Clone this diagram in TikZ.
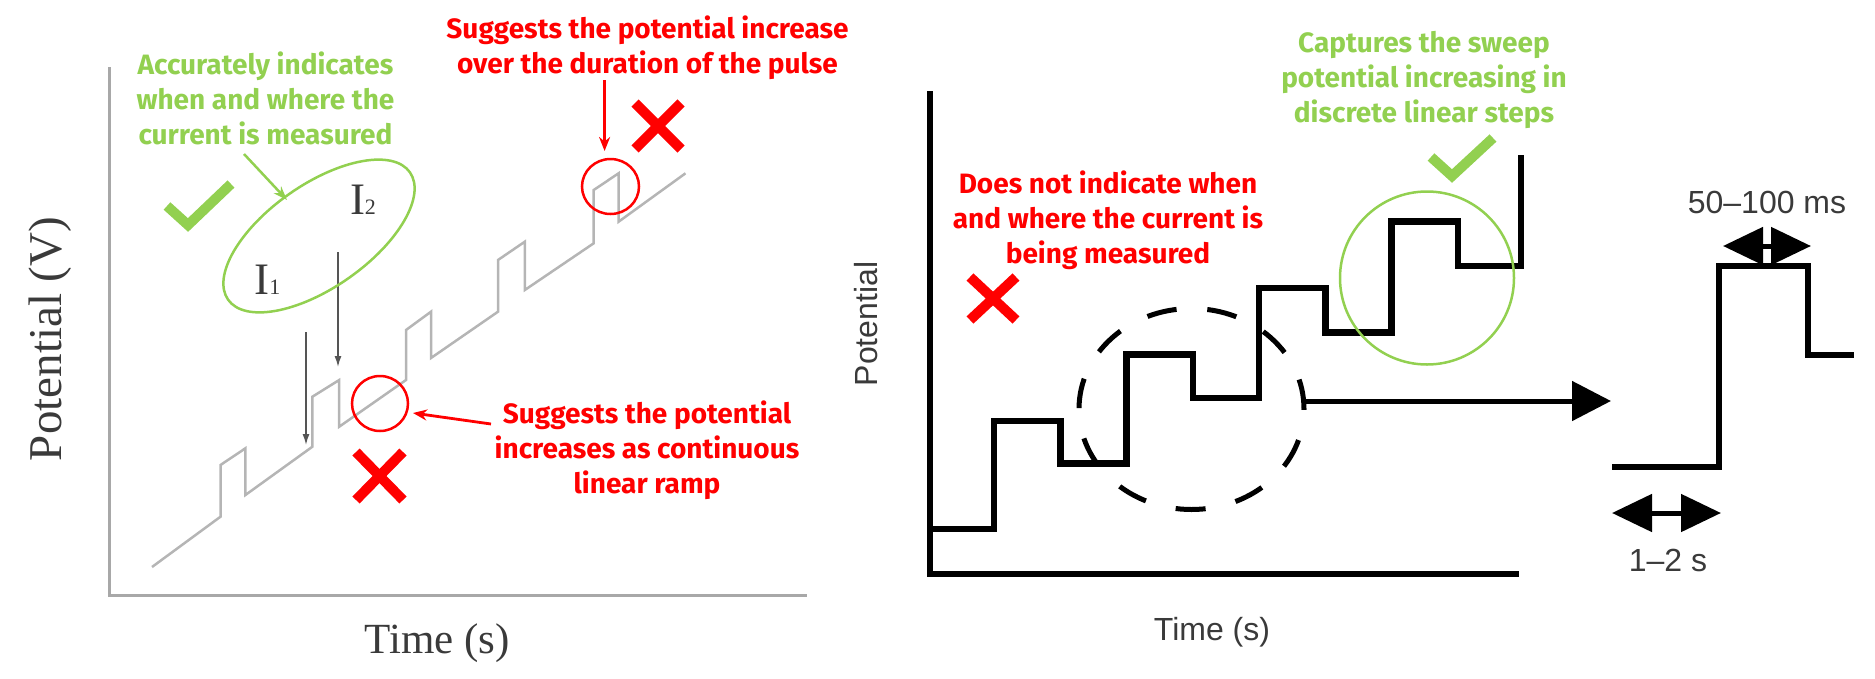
\documentclass[tikz,border=0pt]{standalone}
\usepackage{fontspec}
\setmainfont{Liberation Serif}
\newfontfamily\annfont{Fira Sans}
\newfontfamily\helvfont{Liberation Sans}
\usetikzlibrary{arrows.meta,shapes.geometric}
\definecolor{offgreen}{HTML}{92D050}
\definecolor{offred}{HTML}{FF0000}
\definecolor{rampgray}{HTML}{B5B5B5}
\definecolor{axisgray}{HTML}{A8A8A8}
\definecolor{labgray}{HTML}{3A3A3A}
\definecolor{arrgray}{HTML}{555555}
\begin{document}
\begin{tikzpicture}[x=1pt,y=-1pt,
  redtext/.style={text=offred, font=\annfont\bfseries\fontsize{28}{35}\selectfont, align=center, inner sep=0pt},
  greentext/.style={text=offgreen, font=\annfont\bfseries\fontsize{28}{35}\selectfont, align=center, inner sep=0pt},
  serlab/.style={text=labgray, font=\fontsize{43}{43}\selectfont, inner sep=0pt},
  ilab/.style={text=labgray, font=\fontsize{45}{45}\selectfont, inner sep=0pt},
  sanslab/.style={text=labgray, font=\helvfont\fontsize{32}{32}\selectfont, inner sep=0pt},
  checkmark/.style={offgreen, line width=10pt, line join=miter, line cap=butt},
  crossmark/.style={offred, line width=10pt, line cap=butt},
  ramp/.style={rampgray, line width=2.5pt, line join=miter},
  thinarrow/.style={arrgray, line width=1.5pt, -{Latex[length=11pt,width=7pt]}},
  redarrow/.style={offred, line width=2.8pt, -{Stealth[length=14pt,width=11pt]}},
  greenarrow/.style={offgreen, line width=2.5pt, -{Stealth[length=14pt,width=10pt]}},
  stair/.style={black, line width=6.5pt, line join=miter},
  bigtip/.style={-{Triangle[length=39pt,width=39pt]}},
  dbltip/.style={{Triangle[length=40pt,width=37pt]}-{Triangle[length=40pt,width=37pt]}}
]
\useasboundingbox (0,0) rectangle (1875,678);

% ---------------- left panel ----------------
\draw[axisgray, line width=3pt, line join=miter] (109,67) -- (109,595) -- (807,595);
\node[serlab, font=\fontsize{47}{47}\selectfont, rotate=90] (ylabL) at (50,339) {Potential (V)};
\node[serlab] (xlabL) at (437,643) {Time (s)};

\draw[ramp] (152,567) -- (220.5,516.7) -- (220.5,465) -- (245.4,448.3) -- (245.4,495)
  -- (312.4,446.7) -- (312.4,396.7) -- (339.2,380) -- (339.2,426.7)
  -- (406,380) -- (406,330) -- (431,311.7) -- (431,358)
  -- (498,311.7) -- (498,260) -- (524.8,241.7) -- (524.8,290)
  -- (593.7,243.3) -- (593.7,190) -- (618.6,173.3) -- (618.6,221.7)
  -- (685.5,173.3);

\coordinate (a1s) at (306,332); \coordinate (a1e) at (306,445);
\coordinate (a2s) at (338,252); \coordinate (a2e) at (338,367);
\draw[thinarrow] (a1s) -- (a1e);
\draw[thinarrow] (a2s) -- (a2e);

\node[ilab] (I1) at (267.5,280) {I{\fontsize{22}{22}\selectfont 1}};
\node[ilab] (I2) at (363,200) {I{\fontsize{22}{22}\selectfont 2}};
\draw[offgreen, line width=2.5pt, rotate around={35:(319,236)}] (319,236) ellipse [x radius=111pt, y radius=51.5pt];

\node[greentext] (tAcc) at (265.5,98) {Accurately indicates\\when and where the\\current is measured};
\coordinate (gas) at (244,154); \coordinate (gae) at (287,200);
\draw[greenarrow] (gas) -- (gae);
\draw[checkmark] (167,206) -- (188,225) -- (231,184);

\node[redtext] (tPulse) at (647.5,48) {Suggests the potential increase\\over the duration of the pulse};
\coordinate (ras) at (604.6,80); \coordinate (rae) at (604.6,151);
\draw[redarrow] (ras) -- (rae);
\draw[offred, line width=2.5pt] (610.5,186.5) ellipse [x radius=28.5pt, y radius=27.5pt];
\draw[crossmark] (635,103) -- (681,149);
\draw[crossmark] (681,103) -- (635,149);

\node[redtext] (tRamp) at (647,450) {Suggests the potential\\increases as continuous\\linear ramp};
\draw[offred, line width=2.5pt] (380,403.5) ellipse [x radius=28pt, y radius=27.5pt];
\coordinate (rbs) at (491,424); \coordinate (rbe) at (413,413);
\draw[redarrow] (rbs) -- (rbe);
\draw[crossmark] (356,452) -- (403,500);
\draw[crossmark] (403,452) -- (356,500);

% ---------------- right panel ----------------
\draw[black, line width=6pt, line join=miter] (930,91) -- (930,574) -- (1519,574);
\node[sanslab, rotate=90] (ylabR) at (866,324) {Potential};
\node[sanslab] (xlabR) at (1212,632) {Time (s)};

\draw[stair] (930,529) -- (994,529) -- (994,421) -- (1060.5,421) -- (1060.5,463.5)
  -- (1126.5,463.5) -- (1126.5,354.5) -- (1193,354.5) -- (1193,398)
  -- (1259,398) -- (1259,288) -- (1325.5,288) -- (1325.5,332.5)
  -- (1391.5,332.5) -- (1391.5,221.5) -- (1458,221.5) -- (1458,266)
  -- (1521,266) -- (1521,155);

\draw[black, line width=5pt, dash pattern=on 30pt off 30.8pt] (1191.5,409) ellipse [x radius=112.5pt, y radius=100.5pt];
\coordinate (bas) at (1303,401); \coordinate (bae) at (1611,401);
\draw[black, line width=5pt, bigtip] (bas) -- (bae);

\draw[offgreen, line width=2.5pt] (1427,278) ellipse [x radius=87pt, y radius=86.5pt];
\draw[checkmark] (1431,157) -- (1452,176) -- (1493,138);
\node[greentext] (tCap) at (1424,80) {Captures the sweep\\potential increasing in\\discrete linear steps};

\node[redtext] (tNot) at (1108,220) {Does not indicate when\\and where the current is\\being measured};
\draw[crossmark] (970,277) -- (1016,320);
\draw[crossmark] (1016,277) -- (970,320);

% inset
\draw[black, line width=6pt, line join=miter] (1612,467) -- (1719,467) -- (1719,266) -- (1808,266) -- (1808,355) -- (1854,355);
\coordinate (d1s) at (1612,513); \coordinate (d1e) at (1721,513);
\draw[black, line width=5pt, dbltip] (d1s) -- (d1e);
\coordinate (d2s) at (1723,246); \coordinate (d2e) at (1811,246);
\draw[black, line width=5pt, dbltip] (d2s) -- (d2e);
\node[sanslab] (tms) at (1767,202) {50–100 ms};
\node[sanslab] (ts) at (1668,560) {1–2 s};
\end{tikzpicture}
\end{document}
